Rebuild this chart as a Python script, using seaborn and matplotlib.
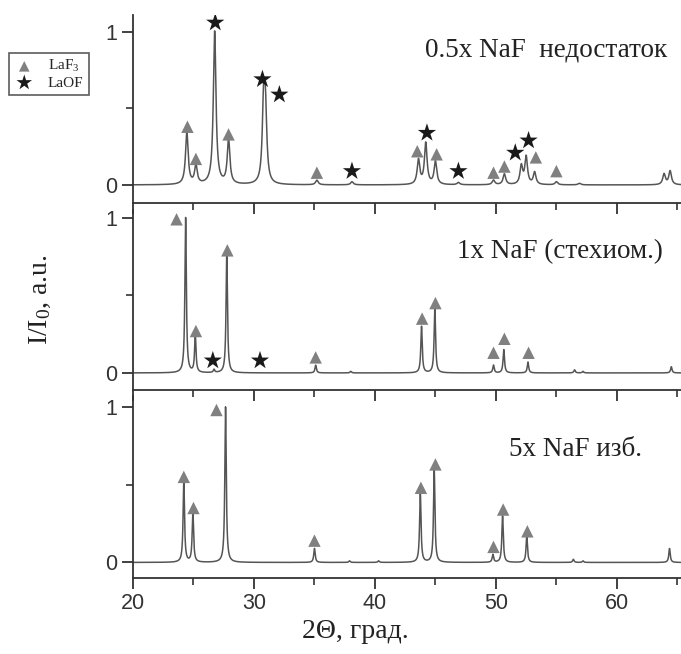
import matplotlib
matplotlib.use("Agg")
import matplotlib.pyplot as plt
import seaborn as sns
import numpy as np
import pandas as pd

# peak positions (2theta) / heights
p1_pos = [24.45, 25.2, 26.75, 27.9, 30.8, 30.95, 35.2, 38.1, 43.6, 44.2, 45.0, 46.9,
          49.8, 50.7, 52.1, 52.5, 53.2, 55.0, 56.9, 63.9, 64.4]
p1_hgt = [0.34, 0.12, 1.0, 0.29, 0.5, 0.42, 0.03, 0.02, 0.16, 0.27, 0.15, 0.015,
          0.03, 0.07, 0.12, 0.18, 0.08, 0.02, 0.01, 0.07, 0.09]
p2_pos = [24.35, 25.15, 26.7, 27.75, 35.1, 38.0, 43.85, 44.95, 49.8, 50.65, 52.65,
          56.5, 57.2, 64.5]
p2_hgt = [1.0, 0.24, 0.02, 0.76, 0.05, 0.01, 0.3, 0.42, 0.05, 0.15, 0.07,
          0.02, 0.01, 0.04]
p3_pos = [24.2, 24.95, 27.65, 35.0, 37.9, 40.3, 43.75, 44.9, 49.75, 50.55, 52.55,
          56.4, 57.2, 64.35]
p3_hgt = [0.52, 0.32, 1.0, 0.09, 0.01, 0.01, 0.45, 0.6, 0.05, 0.3, 0.17,
          0.02, 0.01, 0.09]

# phase markers (x, y) per panel
laf3_x = [[24.5, 25.2, 27.9, 35.2, 43.5, 45.1, 49.8, 50.7, 53.3, 55.0],
          [23.6, 25.2, 27.8, 35.1, 43.9, 45.0, 49.8, 50.7, 52.7],
          [24.2, 25.0, 26.9, 35.0, 43.8, 45.0, 49.8, 50.6, 52.6]]
laf3_y = [[0.38, 0.17, 0.33, 0.08, 0.22, 0.20, 0.08, 0.12, 0.18, 0.09],
          [0.99, 0.27, 0.79, 0.10, 0.35, 0.45, 0.13, 0.22, 0.13],
          [0.55, 0.35, 0.98, 0.14, 0.48, 0.63, 0.10, 0.34, 0.20]]
laof_x = [[26.8, 30.7, 32.1, 38.1, 44.3, 46.9, 51.6, 52.7],
          [26.6, 30.5],
          []]
laof_y = [[1.06, 0.69, 0.59, 0.09, 0.34, 0.09, 0.21, 0.29],
          [0.08, 0.08],
          []]

labels = ["0.5x NaF  недостаток", "1x NaF (стехиом.)", "5x NaF изб."]
widths = [0.13, 0.07, 0.07]

sns.set_style("ticks")
plt.rcParams['font.family'] = ['Liberation Sans', 'DejaVu Sans']
plt.rcParams['mathtext.default'] = 'regular'
SERIF = ['Liberation Serif', 'DejaVu Serif']

W, H = 681, 654
fig = plt.figure(figsize=(W / 100, H / 100), dpi=100)

# pixel boxes: (top, bottom, ymin, ymax)
boxes = [(15, 203, -0.118, 1.11), (210, 390, -0.11, 1.05), (396, 578, -0.10, 1.07)]
text_pos = [(425, 50), (457, 252), (509, 450)]
peaks = [(p1_pos, p1_hgt), (p2_pos, p2_hgt), (p3_pos, p3_hgt)]

tt = np.linspace(20, 65.3, 6000)
axes = []
for i, (top, bot, ylo, yhi) in enumerate(boxes):
    ax = fig.add_axes([133 / W, 1 - bot / H, 548 / W, (bot - top) / H])
    pos, hgt = peaks[i]
    g = widths[i]
    inten = np.zeros_like(tt)
    for p, h in zip(pos, hgt):
        inten += h / (1 + ((tt - p) / g) ** 2)
    df = pd.DataFrame({'tt': tt, 'I': inten})
    sns.lineplot(data=df, x='tt', y='I', ax=ax, color='#555555', lw=1.1)
    sns.scatterplot(x=laf3_x[i], y=laf3_y[i], ax=ax, marker='^', s=80,
                    color='#808080', edgecolor='none', label='LaF$_3$', zorder=3)
    if laof_x[i]:
        sns.scatterplot(x=laof_x[i], y=laof_y[i], ax=ax, marker='*', s=190,
                        color='#1a1a1a', edgecolor='none', label='LaOF', zorder=3)
    ax.set_xlim(20, 65.3)
    ax.set_ylim(ylo, yhi)
    ax.set_xticks([20, 30, 40, 50, 60])
    ax.set_xticks([25, 35, 45, 55, 65], minor=True)
    ax.set_yticks([0, 1])
    ax.set_yticklabels(['0', '1'])
    ax.set_yticks([0.5], minor=True)
    ax.set_xlabel('')
    ax.set_ylabel('')
    sns.despine(ax=ax)
    for s in ['left', 'bottom']:
        ax.spines[s].set_color('#333333')
        ax.spines[s].set_linewidth(1.3)
    ax.tick_params(which='major', length=8, width=1.3, color='#333333',
                   labelsize=15.5, pad=3, labelcolor='#333333')
    ax.tick_params(which='minor', length=5, width=1.2, color='#333333')
    if i < 2:
        ax.tick_params(axis='x', labelbottom=False)
    ax.patch.set_alpha(0)
    if ax.get_legend() is not None:
        ax.get_legend().remove()
    tx, ty = text_pos[i]
    fig.text(tx / W, 1 - ty / H, labels[i], family=SERIF, fontsize=19.5,
             ha='left', va='center', color='#222222')
    axes.append(ax)

handles, hl = axes[0].get_legend_handles_labels()
leg = fig.legend(handles, hl, loc='upper left', bbox_to_anchor=(9 / W, 1 - 53 / H),
                 borderaxespad=0, frameon=True, fancybox=False,
                 prop={'family': SERIF, 'size': 11},
                 handletextpad=0.9, borderpad=0.35, labelspacing=0.1,
                 handlelength=1.3, markerscale=0.85)
leg.get_frame().set_edgecolor('#333333')
leg.get_frame().set_linewidth(1.2)

fig.text(40 / W, 1 - 300 / H, 'I/I$_0$, a.u.', family=SERIF, fontsize=20,
         rotation=90, ha='center', va='center', color='#222222')
fig.text(355 / W, 1 - 631 / H, '2Θ, град.', family=SERIF, fontsize=20,
         ha='center', va='center', color='#222222')

fig.savefig('out.png', dpi=100)
